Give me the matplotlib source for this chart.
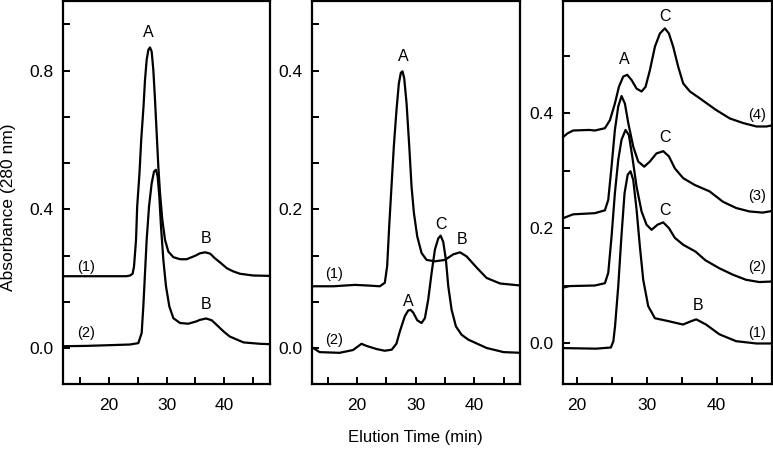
import numpy as np
import matplotlib
matplotlib.use('Agg')
import matplotlib.pyplot as plt
from matplotlib.ticker import MultipleLocator

plt.rcParams['font.family'] = ['Liberation Sans', 'DejaVu Sans']

# ---------------- data ----------------
# panel 1
p1_t1 = [12.0, 16.0, 20.0, 23.0, 23.65, 24.1, 24.35, 24.7, 24.9, 25.3, 25.6, 26.0, 26.26, 26.55,
         26.84, 27.13, 27.42, 27.71, 28.0, 28.29, 28.58, 28.87, 29.27, 29.74, 30.32, 31.19, 32.35,
         33.5, 35.0, 35.8, 36.7, 37.6, 38.4, 39.3, 40.5, 41.6, 42.8, 45.1, 48.0]
p1_a1 = [0.207, 0.207, 0.207, 0.207, 0.209, 0.214, 0.235, 0.312, 0.408, 0.504, 0.600, 0.696, 0.773, 0.831,
         0.860, 0.867, 0.855, 0.802, 0.716, 0.620, 0.523, 0.447, 0.370, 0.312, 0.278, 0.262, 0.256,
         0.256, 0.266, 0.273, 0.276, 0.272, 0.259, 0.247, 0.230, 0.221, 0.214, 0.209, 0.208]
p1_t2 = [12.0, 16.0, 20.0, 23.65, 25.1, 25.68, 25.97, 26.26, 26.55, 26.96, 27.42, 27.83, 28.17, 28.46,
         28.75, 29.04, 29.45, 29.91, 30.49, 31.19, 32.35, 33.8, 35.25, 35.8, 36.9, 37.85, 38.7, 39.9,
         41.0, 43.4, 46.3, 48.0]
p1_a2 = [0.005, 0.006, 0.008, 0.010, 0.014, 0.043, 0.120, 0.216, 0.312, 0.408, 0.475, 0.509, 0.514, 0.495,
         0.437, 0.351, 0.254, 0.178, 0.120, 0.086, 0.072, 0.070, 0.077, 0.081, 0.085, 0.080, 0.067, 0.048,
         0.033, 0.016, 0.012, 0.011]

# panel 2
p2_t1 = [12.0, 16.0, 19.6, 22.0, 23.88, 24.73, 25.13, 25.48, 25.87, 26.27, 26.73, 27.13, 27.47, 27.75,
         28.04, 28.44, 28.9, 29.29, 29.69, 30.26, 31.0, 31.86, 33.28, 34.99, 36.4, 37.56, 38.7, 40.4,
         42.1, 44.4, 48.0]
p2_a1 = [0.089, 0.089, 0.091, 0.090, 0.089, 0.094, 0.118, 0.176, 0.233, 0.291, 0.344, 0.382, 0.397, 0.399,
         0.389, 0.353, 0.291, 0.233, 0.195, 0.161, 0.137, 0.127, 0.125, 0.127, 0.135, 0.138, 0.132, 0.116,
         0.101, 0.093, 0.090]
p2_t2 = [12.0, 12.5, 13.6, 17.0, 19.3, 20.75, 21.6, 23.3, 24.7, 25.9, 26.7, 27.3, 28.15, 28.72, 29.12,
         29.58, 30.26, 31.0, 31.57, 32.14, 32.71, 33.28, 33.85, 34.25, 34.7, 35.16, 35.56, 36.13, 36.87,
         37.84, 38.98, 42.1, 45.0, 48.0]
p2_a2 = [0.002, 0.000, -0.006, -0.007, -0.003, 0.006, 0.003, -0.0015, -0.004, -0.0025, 0.006, 0.024, 0.046, 0.054, 0.055,
         0.051, 0.040, 0.036, 0.043, 0.070, 0.108, 0.142, 0.158, 0.162, 0.153, 0.127, 0.089, 0.055, 0.031,
         0.019, 0.012, 0.000, -0.006, -0.007]

# panel 3
p3_t1 = [18.0, 22.8, 24.9, 25.25, 25.5, 25.95, 26.4, 26.85, 27.3, 27.7, 28.09, 28.57, 29.04, 29.52,
         30.23, 31.19, 33.09, 35.2, 36.4, 37.1, 38.5, 40.4, 42.8, 45.7, 48.0]
p3_a1 = [-0.009, -0.010, -0.008, 0.003, 0.030, 0.099, 0.185, 0.261, 0.293, 0.299, 0.284, 0.232, 0.168, 0.110,
         0.064, 0.043, 0.038, 0.032, 0.038, 0.041, 0.032, 0.015, 0.003, -0.001, -0.001]
p3_t2 = [18.0, 19.0, 22.61, 24.04, 24.52, 24.99, 25.47, 25.95, 26.42, 26.99, 27.47, 27.95, 28.57, 29.28,
         29.99, 30.71, 31.57, 32.38, 33.19, 34.04, 35.23, 37.0, 38.4, 40.4, 42.3, 44.2, 46.1, 48.0]
p3_a2 = [0.096, 0.099, 0.100, 0.104, 0.122, 0.185, 0.261, 0.319, 0.354, 0.371, 0.362, 0.325, 0.272, 0.229,
         0.206, 0.197, 0.206, 0.210, 0.200, 0.183, 0.171, 0.159, 0.144, 0.130, 0.119, 0.110, 0.106, 0.107]
p3_t3 = [18.0, 19.5, 22.61, 24.04, 24.52, 24.99, 25.47, 25.95, 26.42, 26.9, 27.38, 28.09, 28.8, 29.66,
         30.47, 31.4, 32.38, 33.19, 34.04, 35.23, 36.9, 39.0, 40.9, 42.8, 44.7, 46.6, 48.0]
p3_a3 = [0.217, 0.224, 0.226, 0.231, 0.249, 0.307, 0.371, 0.412, 0.430, 0.417, 0.383, 0.342, 0.316, 0.307,
         0.316, 0.330, 0.334, 0.325, 0.304, 0.287, 0.275, 0.264, 0.246, 0.235, 0.229, 0.227, 0.230]
p3_t4 = [18.0, 18.7, 19.5, 21.8, 22.61, 24.04, 24.76, 25.47, 26.04, 26.66, 27.23, 27.85, 28.57, 29.28,
         29.85, 30.47, 31.19, 31.9, 32.61, 33.19, 33.8, 34.52, 35.23, 36.19, 37.61, 39.9, 41.9, 43.8,
         45.7, 47.1, 48.0]
p3_a4 = [0.358, 0.365, 0.370, 0.371, 0.370, 0.374, 0.388, 0.417, 0.446, 0.464, 0.467, 0.458, 0.443, 0.438,
         0.446, 0.475, 0.516, 0.539, 0.548, 0.539, 0.516, 0.481, 0.452, 0.438, 0.426, 0.406, 0.391, 0.383,
         0.377, 0.377, 0.379]

fig = plt.figure(figsize=(7.73, 4.49), dpi=100)
bot, top = 0.1455, 0.997
ax1 = fig.add_axes([0.0815, bot, 0.3493 - 0.0815, top - bot])
ax2 = fig.add_axes([0.4036, bot, 0.6727 - 0.4036, top - bot])
ax3 = fig.add_axes([0.7283, bot, 0.9985 - 0.7283, top - bot])

lw = 1.6
for ax in (ax1, ax2, ax3):
    for s in ax.spines.values():
        s.set_linewidth(1.6)
    ax.tick_params(which='both', direction='in', width=1.4, length=5, labelsize=12.5, colors='black')
    ax.tick_params(axis='x', which='both', pad=10, top=False)
    ax.tick_params(axis='y', which='both', pad=7, right=False)
    ax.xaxis.set_major_locator(MultipleLocator(10))
    ax.xaxis.set_minor_locator(MultipleLocator(5))

# panel 1
ax1.plot(p1_t1, p1_a1, color='black', lw=lw)
ax1.plot(p1_t2, p1_a2, color='black', lw=lw)
ax1.set_xlim(12, 48)
ax1.set_ylim(-0.103, 1.0)
ax1.set_yticks([0.0, 0.4, 0.8])
ax1.set_yticks(np.arange(0, 0.95, 0.4 / 3), minor=True)
ax1.set_yticklabels(['0.0', '0.4', '0.8'])
ax1.text(26.8, 0.91, 'A', fontsize=11.5, ha='center', va='center')
ax1.text(36.8, 0.317, 'B', fontsize=11.5, ha='center', va='center')
ax1.text(36.8, 0.125, 'B', fontsize=11.5, ha='center', va='center')
ax1.text(16.0, 0.235, '(1)', fontsize=10.5, ha='center', va='center')
ax1.text(16.0, 0.043, '(2)', fontsize=10.5, ha='center', va='center')

# panel 2
ax2.plot(p2_t1, p2_a1, color='black', lw=lw)
ax2.plot(p2_t2, p2_a2, color='black', lw=lw)
ax2.set_xlim(12.3, 47.8)
ax2.set_ylim(-0.0515, 0.5)
ax2.set_yticks([0.0, 0.2, 0.4])
ax2.set_yticks(np.arange(0, 0.48, 0.2 / 3), minor=True)
ax2.set_yticklabels(['0.0', '0.2', '0.4'])
ax2.text(27.9, 0.421, 'A', fontsize=11.5, ha='center', va='center')
ax2.text(34.4, 0.178, 'C', fontsize=11.5, ha='center', va='center')
ax2.text(37.9, 0.156, 'B', fontsize=11.5, ha='center', va='center')
ax2.text(28.8, 0.067, 'A', fontsize=11.5, ha='center', va='center')
ax2.text(16.1, 0.106, '(1)', fontsize=10.5, ha='center', va='center')
ax2.text(16.1, 0.011, '(2)', fontsize=10.5, ha='center', va='center')

# panel 3
for t, a in ((p3_t1, p3_a1), (p3_t2, p3_a2), (p3_t3, p3_a3), (p3_t4, p3_a4)):
    ax3.plot(t, a, color='black', lw=lw)
ax3.set_xlim(18.05, 47.9)
ax3.set_ylim(-0.071, 0.595)
ax3.yaxis.set_minor_locator(MultipleLocator(0.1))
ax3.set_yticks([0.0, 0.2, 0.4])
ax3.set_yticklabels(['0.0', '0.2', '0.4'])
ax3.text(26.8, 0.493, 'A', fontsize=11.5, ha='center', va='center')
ax3.text(32.6, 0.569, 'C', fontsize=11.5, ha='center', va='center')
ax3.text(32.6, 0.357, 'C', fontsize=11.5, ha='center', va='center')
ax3.text(32.6, 0.231, 'C', fontsize=11.5, ha='center', va='center')
ax3.text(37.3, 0.065, 'B', fontsize=11.5, ha='center', va='center')
ax3.text(45.8, 0.397, '(4)', fontsize=10.5, ha='center', va='center')
ax3.text(45.8, 0.256, '(3)', fontsize=10.5, ha='center', va='center')
ax3.text(45.8, 0.133, '(2)', fontsize=10.5, ha='center', va='center')
ax3.text(45.8, 0.017, '(1)', fontsize=10.5, ha='center', va='center')

fig.text(0.538, 0.0245, 'Elution Time (min)', fontsize=12, ha='center', va='center')
fig.text(0.0105, 0.538, 'Absorbance (280 nm)', fontsize=12.5, ha='center', va='center',
         rotation=90)

plt.savefig('out.png', dpi=100)
